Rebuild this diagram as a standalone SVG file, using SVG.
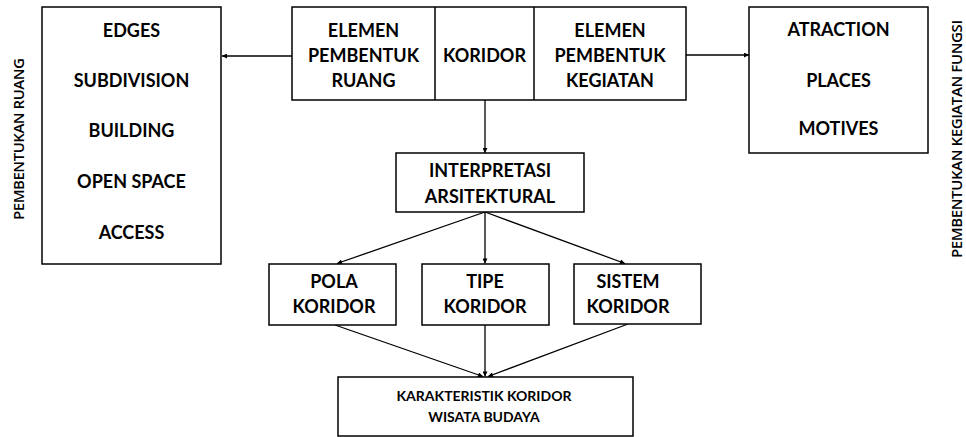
<svg xmlns="http://www.w3.org/2000/svg" width="966" height="437" viewBox="0 0 966 437">
<style>
.box{fill:#fff;stroke:#000;stroke-width:1.5}
.t{font-family:Lato,"Liberation Sans",sans-serif;font-weight:bold;font-size:18px;fill:#000;text-anchor:middle}
.s{font-size:14px}
.v{font-family:"Open Sans","Liberation Sans",sans-serif;font-weight:600;font-size:15px;fill:#000;text-anchor:middle}
.c{fill:none;stroke:#000;stroke-width:1.3}
</style>
<defs>
<marker id="ah" viewBox="0 0 10 10" refX="10" refY="5" markerWidth="6" markerHeight="5" markerUnits="userSpaceOnUse" orient="auto">
<path d="M0,0 L10,5 L0,10 z" fill="#000"/>
</marker>
</defs>
<rect width="966" height="437" fill="#fff"/>
<g id="connectors">
<line class="c" x1="292" y1="56" x2="222" y2="56" marker-end="url(#ah)"/>
<line class="c" x1="686" y1="55" x2="749" y2="55" marker-end="url(#ah)"/>
<line class="c" x1="485" y1="100" x2="485" y2="153" marker-end="url(#ah)"/>
<line class="c" x1="485" y1="212" x2="337" y2="263.5" marker-end="url(#ah)"/>
<line class="c" x1="485" y1="212" x2="485" y2="263.5" marker-end="url(#ah)"/>
<line class="c" x1="485" y1="212" x2="625" y2="263.5" marker-end="url(#ah)"/>
<line class="c" x1="335" y1="325" x2="483" y2="376.5" marker-end="url(#ah)"/>
<line class="c" x1="485" y1="325" x2="485" y2="376.5" marker-end="url(#ah)"/>
<line class="c" x1="628" y1="324" x2="488" y2="376.5" marker-end="url(#ah)"/>
</g>
<g id="label-left">
<text class="v" transform="translate(24,139) rotate(-90)" textLength="162" lengthAdjust="spacing">PEMBENTUKAN RUANG</text>
</g>
<g id="label-right">
<text class="v" transform="translate(962,139) rotate(-90)" textLength="238" lengthAdjust="spacing">PEMBENTUKAN KEGIATAN FUNGSI</text>
</g>
<g id="node-ruang">
<rect class="box" x="42" y="7" width="179" height="257"/>
<text class="t" x="131.5" y="37">EDGES</text>
<text class="t" x="131.5" y="87">SUBDIVISION</text>
<text class="t" x="131.5" y="137">BUILDING</text>
<text class="t" x="131.5" y="188">OPEN SPACE</text>
<text class="t" x="131.5" y="239">ACCESS</text>
</g>
<g id="node-koridor">
<rect class="box" x="292" y="7" width="394" height="93"/>
<line class="box" x1="435" y1="7" x2="435" y2="100"/>
<line class="box" x1="534" y1="7" x2="534" y2="100"/>
<text class="t" x="363.5" y="37">ELEMEN</text>
<text class="t" x="363.5" y="62">PEMBENTUK</text>
<text class="t" x="363.5" y="87">RUANG</text>
<text class="t" x="484.5" y="62">KORIDOR</text>
<text class="t" x="610" y="37">ELEMEN</text>
<text class="t" x="610" y="62">PEMBENTUK</text>
<text class="t" x="610" y="87">KEGIATAN</text>
</g>
<g id="node-kegiatan">
<rect class="box" x="749" y="7" width="179" height="146"/>
<text class="t" x="838.5" y="35.5">ATRACTION</text>
<text class="t" x="838.5" y="87">PLACES</text>
<text class="t" x="838.5" y="135">MOTIVES</text>
</g>
<g id="node-interpretasi">
<rect class="box" x="396" y="153" width="188" height="59"/>
<text class="t" x="490" y="177">INTERPRETASI</text>
<text class="t" x="490" y="203">ARSITEKTURAL</text>
</g>
<g id="node-pola">
<rect class="box" x="269" y="264" width="127" height="61"/>
<text class="t" x="334" y="288">POLA</text>
<text class="t" x="334" y="313">KORIDOR</text>
</g>
<g id="node-tipe">
<rect class="box" x="422" y="264" width="127" height="61"/>
<text class="t" x="485" y="288">TIPE</text>
<text class="t" x="485" y="313">KORIDOR</text>
</g>
<g id="node-sistem">
<rect class="box" x="574" y="264" width="127" height="60"/>
<text class="t" x="628" y="288">SISTEM</text>
<text class="t" x="628" y="313">KORIDOR</text>
</g>
<g id="node-karakteristik">
<rect class="box" x="338" y="377" width="295" height="59"/>
<text class="t s" x="484" y="401">KARAKTERISTIK KORIDOR</text>
<text class="t s" x="484" y="422">WISATA BUDAYA</text>
</g>
</svg>
